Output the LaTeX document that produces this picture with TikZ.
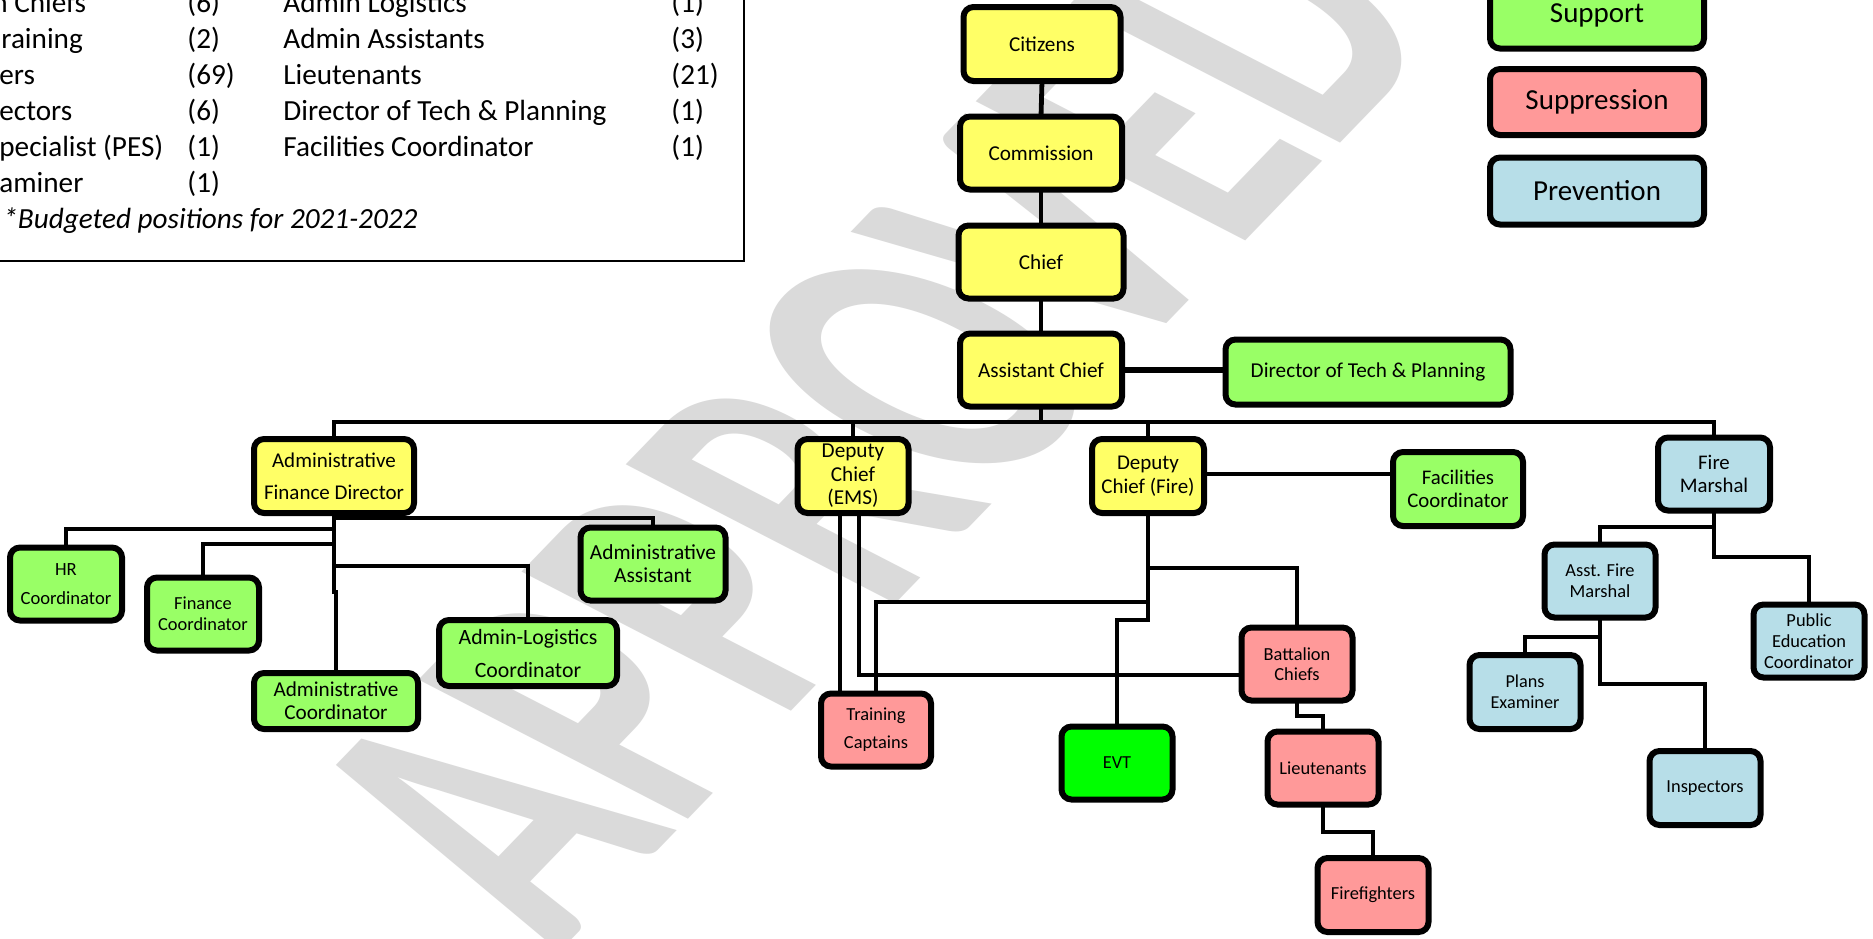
\documentclass[tikz,border=0pt]{standalone}
\usepackage{fontspec}
\setmainfont{Carlito}
\usetikzlibrary{calc}
\definecolor{yel}{HTML}{FFFF66}
\definecolor{grn}{HTML}{99FF66}
\definecolor{pnk}{HTML}{FF9999}
\definecolor{blu}{HTML}{B7DEE8}
\definecolor{evtg}{HTML}{00FF00}
\definecolor{wm}{HTML}{DADADA}
\tikzset{
  box/.style={draw=black, line width=3pt, rounded corners=5pt, align=center, inner sep=0pt, outer sep=0pt},
  big/.style={font=\fontsize{10.6}{11.7}\selectfont},
  small/.style={font=\fontsize{9.2}{10.5}\selectfont},
  wh/.style 2 args={minimum width=#1pt, minimum height=#2pt},
  conn/.style={line width=2.4pt},
  lg/.style={font=\fontsize{14.6}{18}\selectfont, inner sep=0pt, anchor=base west},
}
\begin{document}
\begin{tikzpicture}[x=0.5pt,y=-0.5pt]
\useasboundingbox (0,0) rectangle (1873,938);
\clip (0,0) rectangle (1873,938);
\fill[white] (0,0) rectangle (1873,938);
% watermark
\begin{scope}[shift={(871,420)}, rotate=46, xslant=-0.3, yscale=1.6]
\node[transform shape, text=wm, inner sep=0pt, font=\bfseries\fontsize{140}{140}\selectfont] (wmark) at (0,0) {APPROVED};
\end{scope}

% legend text box
\draw[line width=1pt] (-20,-20) rectangle (744,261);
\node[lg] (t1a) at (-8,12) {n Chiefs};
\node[lg] (t1b) at (187,12) {(6)};
\node[lg] (t1c) at (283,12) {Admin Logistics};
\node[lg] (t1d) at (671,12) {(1)};
\node[lg] (t2a) at (1,48) {raining};
\node[lg] (t2b) at (187,48) {(2)};
\node[lg] (t2c) at (283,48) {Admin Assistants};
\node[lg] (t2d) at (671,48) {(3)};
\node[lg] (t3a) at (-1,84) {ers};
\node[lg] (t3b) at (187,84) {(69)};
\node[lg] (t3c) at (283,84) {Lieutenants};
\node[lg] (t3d) at (671,84) {(21)};
\node[lg] (t4a) at (-1,120) {ectors};
\node[lg] (t4b) at (187,120) {(6)};
\node[lg] (t4c) at (283,120) {Director of Tech \& Planning};
\node[lg] (t4d) at (671,120) {(1)};
\node[lg] (t5a) at (-1,156) {pecialist (PES)};
\node[lg] (t5b) at (187,156) {(1)};
\node[lg] (t5c) at (283,156) {Facilities Coordinator};
\node[lg] (t5d) at (671,156) {(1)};
\node[lg] (t6a) at (-1,192) {aminer};
\node[lg] (t6b) at (187,192) {(1)};
\node[lg] (t7a) at (3,228) {\itshape *Budgeted positions for 2021-2022};

% colour legend
\node[box, fill=grn, wh={107}{33.5}, font=\fontsize{14.5}{17}\selectfont] (lsup) at (1597,15) {Support};
\node[box, fill=pnk, wh={107}{33}, font=\fontsize{14.5}{17}\selectfont] (lsupp) at (1597,102) {Suppression};
\node[box, fill=blu, wh={107}{33.5}, font=\fontsize{14.5}{17}\selectfont] (lprev) at (1597,191) {Prevention};

% main column
\node[box, fill=yel, big, wh={78.5}{37}] (cit) at (1042,44) {Citizens};
\node[box, fill=yel, big, wh={81}{36.5}] (com) at (1041,153) {Commission};
\node[box, fill=yel, big, wh={82.5}{36.5}] (chief) at (1041,262) {Chief};
\node[box, fill=yel, big, wh={81}{36.5}] (ac) at (1041,370) {Assistant Chief};
\node[box, fill=grn, big, wh={142.5}{32.5}] (dtp) at (1368,372) {Director of Tech \& Planning};

% second level
\node[box, fill=yel, wh={80}{37}, font=\fontsize{10.5}{16}\selectfont] (afd) at (334,476) {Administrative\\Finance Director};
\node[box, fill=yel, big, wh={55.5}{37}] (ems) at (853,476) {Deputy\\Chief\\(EMS)};
\node[box, fill=yel, wh={56}{37}, font=\fontsize{10.5}{11.8}\selectfont] (fire) at (1148,476) {Deputy\\Chief (Fire)};
\node[box, fill=grn, wh={65}{37}, font=\fontsize{10.4}{11.7}\selectfont] (fac) at (1458,489) {Facilities\\Coordinator};
\node[box, fill=blu, wh={56}{36.5}, font=\fontsize{10.4}{11.7}\selectfont] (fm) at (1714,474) {Fire\\Marshal};

% admin branch
\node[box, fill=grn, wh={56}{36.5}, font=\fontsize{9.3}{14.5}\selectfont] (hr) at (66,584) {HR\\Coordinator};
\node[box, fill=grn, wh={56}{36.5}, small] (fc) at (203,614) {Finance\\Coordinator};
\node[box, fill=grn, wh={72.5}{36.5}, font=\fontsize{10.7}{11.5}\selectfont] (aa) at (653,564) {Administrative\\Assistant};
\node[box, fill=grn, wh={89}{33}, font=\fontsize{10.9}{16.5}\selectfont] (al) at (528,653) {Admin-Logistics\\Coordinator};
\node[box, fill=grn, wh={82}{28}, font=\fontsize{10.6}{11.7}\selectfont] (acd) at (336,701) {Administrative\\Coordinator};

% operations branch
\node[box, fill=pnk, wh={55}{36.5}, font=\fontsize{9.2}{14}\selectfont] (tc) at (876,730) {Training\\Captains};
\node[box, fill=evtg, wh={55.5}{36.5}, small] (evt) at (1117,763) {EVT};
\node[box, fill=pnk, wh={55.5}{36.5}, font=\fontsize{9.2}{10.3}\selectfont] (bc) at (1297,664) {Battalion\\Chiefs};
\node[box, fill=pnk, wh={55.5}{36.5}, small] (lt) at (1323,768) {Lieutenants};
\node[box, fill=pnk, wh={55.5}{37}, small] (ff) at (1373,895) {Firefighters};

% prevention branch
\node[box, fill=blu, wh={55.5}{36.5}, small] (afm) at (1600,581) {Asst. Fire\\Marshal};
\node[box, fill=blu, wh={55.5}{36.5}, font=\fontsize{9.2}{10.4}\selectfont] (pe) at (1809,641) {Public\\Education\\Coordinator};
\node[box, fill=blu, wh={55.5}{37}, font=\fontsize{9.1}{10.4}\selectfont] (pex) at (1525,692) {Plans\\Examiner};
\node[box, fill=blu, wh={55.5}{37}, small] (insp) at (1705,788) {Inspectors};

% level coordinates
\coordinate (busy) at (0,422);
\coordinate (y474) at (0,474);
\coordinate (y518) at (0,518);
\coordinate (y529) at (0,529);
\coordinate (y544) at (0,544);
\coordinate (y566) at (0,566);
\coordinate (y592) at (0,592);
\coordinate (y568) at (0,568);
\coordinate (y602) at (0,602);
\coordinate (y620) at (0,620);
\coordinate (y675) at (0,675);
\coordinate (y716) at (0,716);
\coordinate (y832) at (0,832);
\coordinate (y527) at (0,527);
\coordinate (y557) at (0,557);
\coordinate (y637) at (0,637);
\coordinate (y684) at (0,684);
\coordinate (e1) at ($(ems.south)+(-13,0)$);
\coordinate (e2) at ($(ems.south)+(6,0)$);

% connectors
\draw[conn] (cit.south) -- (com.north);
\draw[conn] (com.south) -- (chief.north);
\draw[conn] (chief.south) -- (ac.north);
\draw[conn, line width=3pt] (ac.east) -- (ac.east -| dtp.west);
\draw[conn] (afd.north) -- (afd.north |- busy) -- (fm.north |- busy) -- (fm.north);
\draw[conn] (ac.south) -- (ac.south |- busy);
\draw[conn] (ems.north) -- (ems.north |- busy);
\draw[conn] (fire.north) -- (fire.north |- busy);
\draw[conn] (fire.east |- y474) -- (fac.west |- y474);

\draw[conn] (afd.south) -- (afd.south |- y592) -| (acd.north);
\draw[conn] (afd.south |- y518) -| (aa.north);
\draw[conn] (afd.south |- y529) -| (hr.north);
\draw[conn] (afd.south |- y544) -| (fc.north);
\draw[conn] (afd.south |- y566) -| (al.north);

\draw[conn] (e1) -- (e1 |- tc.north);
\draw[conn] (e2) -- (e2 |- y675) -- (bc.west |- y675);
\draw[conn] (fire.south) -- (fire.south |- y620) -| (evt.north);
\draw[conn] (fire.south |- y568) -| (bc.north);
\draw[conn] (fire.south |- y602) -| (tc.north);
\draw[conn] (bc.south) -- (bc.south |- y716) -| (lt.north);
\draw[conn] (lt.south) -- (lt.south |- y832) -| (ff.north);

\draw[conn] (fm.south) -- (fm.south |- y557) -| (pe.north);
\draw[conn] (fm.south |- y527) -| (afm.north);
\draw[conn] (afm.south) -- (afm.south |- y684) -| (insp.north);
\draw[conn] (afm.south |- y637) -| (pex.north);
\end{tikzpicture}
\end{document}
